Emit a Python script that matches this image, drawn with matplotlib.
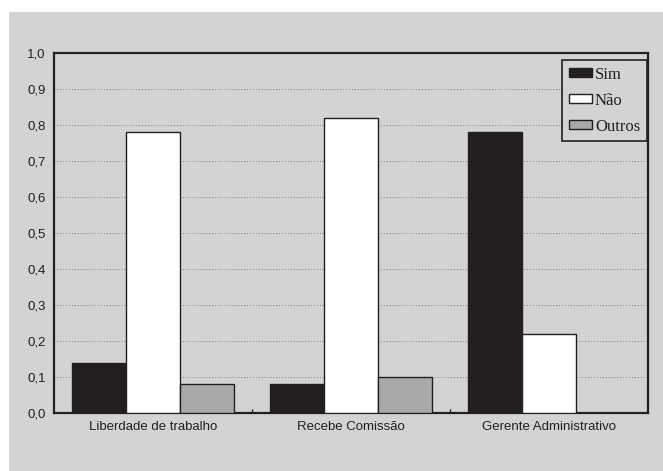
import matplotlib
matplotlib.use("Agg")
import matplotlib.pyplot as plt
from matplotlib.patches import Rectangle
import numpy as np

categories = ["Liberdade de trabalho", "Recebe Comissão", "Gerente Administrativo"]
series_names = ["Sim", "Não", "Outros"]
sim = [0.14, 0.08, 0.78]
nao = [0.78, 0.82, 0.22]
outros = [0.08, 0.10, 0.0]
yticks = [0.0, 0.1, 0.2, 0.3, 0.4, 0.5, 0.6, 0.7, 0.8, 0.9, 1.0]
ytick_labels = ["0,0", "0,1", "0,2", "0,3", "0,4", "0,5", "0,6", "0,7", "0,8", "0,9", "1,0"]

bg = "#d3d3d5"
colors = ["#231f20", "#ffffff", "#a9a9ab"]

W, H = 663, 471
fig = plt.figure(figsize=(W / 100, H / 100), dpi=100, facecolor="white")
fig.patches.append(Rectangle((9 / W, 0), (W - 9) / W, (H - 12) / H,
                             transform=fig.transFigure, facecolor=bg,
                             edgecolor="none", zorder=-10))

ax = fig.add_axes([54 / W, (H - 413) / H, 594 / W, 360 / H])
ax.set_facecolor(bg)

x = np.arange(len(categories))
bw = 54 / 198
for i, (vals, name) in enumerate(zip([sim, nao, outros], series_names)):
    ax.bar(x + (i - 1) * bw, vals, width=bw, color=colors[i], edgecolor="#231f20",
           linewidth=1.0, label=name, zorder=3)

ax.set_xlim(-0.5, 2.5)
ax.set_ylim(0, 1.0)
ax.set_yticks(yticks)
ax.set_yticklabels(ytick_labels, fontsize=9.5, family="Liberation Sans", color="#231f20")
ax.set_xticks(x)
ax.set_xticklabels(categories, fontsize=9.5, family="Liberation Sans", color="#231f20")
ax.tick_params(axis="both", length=0, pad=6)
ax.set_xticks([0.5, 1.5], minor=True)
ax.tick_params(axis="x", which="minor", direction="in", length=3, width=1, color="#231f20")

ax.yaxis.grid(True, linestyle=(0, (1, 2)), color="#808080", linewidth=0.7, zorder=1)
ax.set_axisbelow(True)

for s in ax.spines.values():
    s.set_color("#231f20")
    s.set_linewidth(1.6)

leg = ax.legend(loc="upper right", bbox_to_anchor=(0.998, 0.981), borderaxespad=0,
                prop={"family": "Liberation Serif", "size": 12},
                handlelength=1.38, handleheight=0.48, handletextpad=0.2,
                labelspacing=0.6, borderpad=0.4, fancybox=False,
                frameon=True, facecolor=bg, edgecolor="#231f20", framealpha=1)
leg.get_frame().set_linewidth(1.2)
for t in leg.get_texts():
    t.set_color("#231f20")

fig.savefig("out.png", dpi=100, facecolor="white")
